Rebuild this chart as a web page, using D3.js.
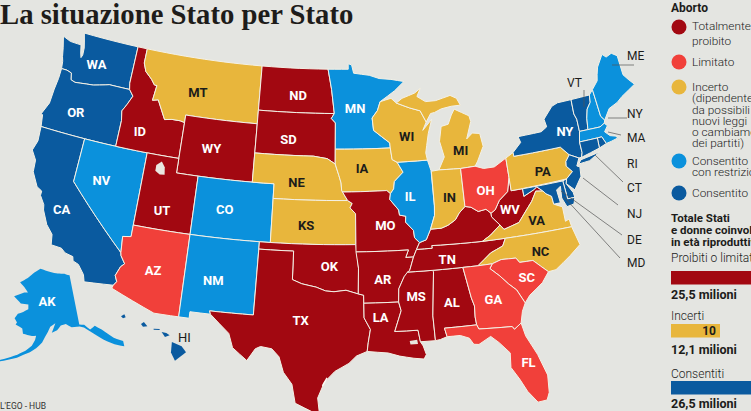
<!DOCTYPE html>
<html>
<head>
<meta charset="utf-8">
<style>
  body { margin: 0; background: #e4e5e1; overflow: hidden; }
  svg { display: block; }
  text { font-family: Roboto, sans-serif; }
  .narrow { font-family: "Liberation Sans Narrow", Roboto, sans-serif; }
</style>
</head>
<body>
<svg width="751" height="411"></svg>
<script src="https://d3js.org/d3.v7.min.js"></script>
<script>

// status of each state
var banned = ["ID","ND","SD","WY","UT","TX","OK","MO","AR","LA","MS","AL","TN","KY","WV"];
var limited = ["AZ","OH","GA","SC","FL"];
var uncertain = ["MT","NE","KS","IA","WI","MI","IN","PA","VA","NC"];
var restricted = ["NV","CO","NM","MN","IL","AK","ME","NH","MA"];
var allowed = ["WA","OR","CA","NY","VT","CT","RI","NJ","DE","MD","HI"];

var statusColors = ["#a20811","#f1403a","#e8b63c","#0b91dc","#0a5a9f"];

// outlines, [lon,lat] rings
var outlines = {
  WA: [[[-124.73,48.38],[-123.9,48.17],[-123.1,48.15],[-122.75,48.15],[-122.55,47.6],[-122.4,47.3],[-122.3,47.5],[-122.35,48.0],[-122.5,48.4],[-122.76,49],[-117.03,49],[-117.04,46.42],[-116.92,46],[-118.98,46],[-119.3,45.93],[-120.5,45.7],[-121.2,45.65],[-122.3,45.55],[-122.75,45.65],[-122.9,46.1],[-123.4,46.2],[-123.95,46.2],[-124.05,46.7],[-124.2,47],[-124.4,47.6]]],
  OR: [[[-123.95,46.2],[-123.4,46.2],[-122.9,46.1],[-122.75,45.65],[-122.3,45.55],[-121.2,45.65],[-120.5,45.7],[-119.3,45.93],[-118.98,46],[-116.92,46],[-116.46,45.6],[-116.85,44.95],[-117.2,44.45],[-117.03,43.8],[-117.03,42],[-124.21,42],[-124.4,42.8],[-124.55,42.84],[-124.1,43.7],[-124.05,44.7],[-123.95,45.5]]],
  CA: [[[-124.21,42],[-120,42],[-120,39],[-114.63,35],[-114.57,34.8],[-114.14,34.3],[-114.43,34.05],[-114.72,33.4],[-114.5,33],[-114.72,32.72],[-117.12,32.53],[-117.3,33],[-117.9,33.6],[-118.4,33.75],[-118.5,34.03],[-119.2,34.15],[-119.6,34.4],[-120.5,34.45],[-120.65,35.15],[-121.3,35.7],[-121.9,36.6],[-122,36.95],[-122.5,37.5],[-122.5,37.8],[-123,38],[-123.7,38.9],[-123.8,39.7],[-124.35,40.3],[-124.1,41]]],
  NV: [[[-120,42],[-114.04,42],[-114.04,36.2],[-114.75,36.1],[-114.63,35],[-120,39]]],
  ID: [[[-117.03,49],[-116.05,49],[-116.05,48],[-115.72,47.45],[-115,47],[-114.6,46.65],[-114.35,46.65],[-114.5,45.6],[-113.95,45.7],[-113.45,45.05],[-113,44.45],[-112.3,44.55],[-111.5,44.55],[-111.05,44.48],[-111.05,42],[-117.03,42],[-117.03,43.8],[-117.2,44.45],[-116.85,44.95],[-116.46,45.6],[-116.92,46],[-117.04,46.42]]],
  MT: [[[-116.05,49],[-104.05,49],[-104.05,45],[-111.05,45],[-111.05,44.48],[-111.5,44.55],[-112.3,44.55],[-113,44.45],[-113.45,45.05],[-113.95,45.7],[-114.5,45.6],[-114.35,46.65],[-114.6,46.65],[-115,47],[-115.72,47.45],[-116.05,48]]],
  WY: [[[-111.05,45],[-104.05,45],[-104.05,41],[-111.05,41]]],
  UT: [[[-114.04,42],[-111.05,42],[-111.05,41],[-109.05,41],[-109.05,37],[-114.04,37]]],
  CO: [[[-109.05,41],[-102.05,41],[-102.05,37],[-109.05,37]]],
  AZ: [[[-114.04,37],[-109.05,37],[-109.05,31.33],[-111.07,31.33],[-114.8,32.5],[-114.72,32.72],[-114.5,33],[-114.72,33.4],[-114.43,34.05],[-114.14,34.3],[-114.57,34.8],[-114.63,35],[-114.75,36.1],[-114.04,36.2]]],
  NM: [[[-109.05,37],[-103,37],[-103.05,32],[-106.62,32],[-106.53,31.78],[-108.2,31.78],[-108.2,31.33],[-109.05,31.33]]],
  ND: [[[-104.05,49],[-97.23,49],[-96.85,47.6],[-96.56,45.94],[-104.05,45.94]]],
  SD: [[[-104.05,45.94],[-96.56,45.94],[-96.85,45.6],[-96.45,45.3],[-96.45,42.49],[-97.2,42.85],[-98.5,43],[-104.05,43]]],
  NE: [[[-104.05,43],[-98.5,43],[-97.2,42.85],[-96.45,42.49],[-96.1,41.7],[-95.9,41.2],[-95.85,40.7],[-95.31,40],[-102.05,40],[-102.05,41],[-104.05,41]]],
  KS: [[[-102.05,40],[-95.31,40],[-94.9,39.8],[-95.1,39.5],[-94.61,39.1],[-94.62,37],[-102.05,37]]],
  OK: [[[-103,37],[-94.62,37],[-94.43,35.4],[-94.48,33.64],[-95.5,33.9],[-96.5,33.8],[-97.2,33.85],[-98,34.1],[-99.2,34.3],[-100,34.56],[-100,36.5],[-103,36.5]]],
  TX: [[[-103,36.5],[-100,36.5],[-100,34.56],[-99.2,34.3],[-98,34.1],[-97.2,33.85],[-96.5,33.8],[-95.5,33.9],[-94.48,33.64],[-94.04,33.55],[-94.04,32],[-93.55,31.2],[-93.75,30.3],[-93.85,29.7],[-94.7,29.4],[-95.3,28.9],[-96.4,28.35],[-97.2,27.6],[-97.7,26.5],[-97.55,25.45],[-98,25.5],[-99.4,26.1],[-99.7,27.4],[-100.4,28.2],[-100.8,29.25],[-101.4,29.77],[-102.3,29.88],[-102.7,29.7],[-103.3,28.85],[-104.5,29.65],[-104.9,30.6],[-106.53,31.78],[-106.62,32],[-103.05,32]]],
  MN: [[[-97.23,49],[-95.15,49],[-95.15,49.38],[-94.8,49.3],[-94.6,48.72],[-93,48.55],[-92,48.3],[-90.8,48.2],[-89.5,48],[-90.5,47.4],[-92,46.7],[-92.3,46.1],[-92.85,45.6],[-92.75,44.75],[-91.25,43.85],[-91.22,43.5],[-96.45,43.5],[-96.45,45.3],[-96.85,45.6],[-96.56,45.94],[-96.85,47.6]]],
  IA: [[[-96.45,43.5],[-91.22,43.5],[-91.1,42.7],[-90.65,42.5],[-90.15,41.8],[-91,41.2],[-91.1,40.7],[-91.42,40.38],[-91.73,40.61],[-95.77,40.58],[-95.85,40.7],[-95.9,41.2],[-96.1,41.7],[-96.45,42.49]]],
  MO: [[[-95.77,40.58],[-91.73,40.61],[-91.42,40.38],[-91.5,40],[-90.75,39.25],[-90.7,38.9],[-90.15,38.8],[-90.2,38.4],[-89.55,37.8],[-89.5,37.3],[-89.1,36.95],[-89.4,36.5],[-89.7,36],[-90.37,36],[-90.1,36.5],[-94.62,36.5],[-94.62,37],[-94.61,39.1],[-95.1,39.5],[-94.9,39.8],[-95.31,40]]],
  AR: [[[-94.62,36.5],[-90.1,36.5],[-90.37,36],[-89.7,36],[-90.1,35.1],[-90.6,34.7],[-91.1,33.9],[-91.17,33],[-94.04,33],[-94.04,33.55],[-94.48,33.64],[-94.43,35.4]]],
  LA: [[[-94.04,33],[-91.17,33],[-91,32.4],[-91.6,31],[-89.73,31],[-89.6,30.2],[-89.4,29.9],[-89.2,29.3],[-89.4,29],[-90.2,29.1],[-91.3,29.3],[-92.2,29.55],[-93.85,29.7],[-93.75,30.3],[-93.55,31.2],[-94.04,32]]],
  MS: [[[-91.17,33],[-91.1,33.9],[-90.6,34.7],[-90.3,35],[-88.2,35],[-88.1,34.9],[-88.45,31.9],[-88.4,30.2],[-89.6,30.2],[-89.73,31],[-91.6,31],[-91,32.4]]],
  AL: [[[-88.2,35],[-85.6,35],[-85.18,32.87],[-85,32.3],[-85.05,31.55],[-85,31],[-87.6,31],[-87.45,30.4],[-88,30.25],[-88.4,30.2],[-88.45,31.9],[-88.1,34.9]]],
  TN: [[[-89.4,36.5],[-88.05,36.5],[-88.07,36.68],[-86.5,36.65],[-83.68,36.6],[-81.68,36.59],[-82,36.1],[-83.1,35.75],[-84.32,34.99],[-85.6,35],[-88.2,35],[-90.3,35],[-90.1,35.1],[-89.7,36]]],
  KY: [[[-89.4,36.5],[-88.05,36.5],[-88.07,36.68],[-86.5,36.65],[-83.68,36.6],[-82.9,36.95],[-81.97,37.54],[-82.6,38.17],[-82.6,38.42],[-83,38.73],[-83.7,38.65],[-84.3,39],[-84.82,39.1],[-85.4,38.7],[-85.8,38.27],[-86.5,37.95],[-87.1,37.8],[-88.05,37.8],[-88.5,37.1],[-89.1,36.95]]],
  WV: [[[-82.6,38.42],[-82.6,38.17],[-81.97,37.54],[-81.68,37.2],[-80.3,37.5],[-79.3,38.4],[-78.87,38.77],[-78.35,39.4],[-77.72,39.32],[-78.2,39.68],[-78.5,39.52],[-79.48,39.2],[-79.48,39.72],[-80.52,39.72],[-80.52,40.64],[-80.85,39.7],[-81.7,39.2],[-82.2,38.6]]],
  VA: [[[-83.68,36.6],[-81.68,36.59],[-75.87,36.55],[-75.95,37.1],[-76.3,37],[-76.3,38],[-77,38.3],[-77.05,38.85],[-77.5,39.1],[-77.72,39.32],[-78.35,39.4],[-78.87,38.77],[-79.3,38.4],[-80.3,37.5],[-81.68,37.2],[-81.97,37.54],[-82.9,36.95]]],
  NC: [[[-81.68,36.59],[-75.87,36.55],[-75.5,35.25],[-76.5,34.65],[-77.9,33.9],[-78.55,33.86],[-79.67,34.8],[-80.8,34.82],[-81.05,35.15],[-82.3,35.2],[-83.1,35],[-84.32,34.99],[-83.1,35.75],[-82,36.1]]],
  SC: [[[-83.1,35],[-82.3,35.2],[-81.05,35.15],[-80.8,34.82],[-79.67,34.8],[-78.55,33.86],[-79.2,33.2],[-80.4,32.5],[-80.87,32.03],[-81.4,33],[-82,33.5],[-82.6,34.1],[-83.35,34.7]]],
  GA: [[[-85.6,35],[-84.32,34.99],[-83.1,35],[-83.35,34.7],[-82.6,34.1],[-82,33.5],[-81.4,33],[-80.87,32.03],[-81.2,31.5],[-81.45,30.72],[-82.05,30.36],[-82.2,30.57],[-84.86,30.7],[-85,31],[-85.05,31.55],[-85,32.3],[-85.18,32.87]]],
  FL: [[[-87.6,31],[-85,31],[-84.86,30.7],[-82.2,30.57],[-82.05,30.36],[-81.45,30.72],[-81.25,29.8],[-80.55,28.4],[-80.05,26.9],[-80.15,25.7],[-80.4,25.2],[-81.1,25.15],[-81.75,26],[-82.2,26.9],[-82.75,27.8],[-82.65,28.8],[-83.4,29.6],[-84,30.1],[-85,29.65],[-85.4,29.7],[-85.7,30.15],[-86.4,30.4],[-87.45,30.4]]],
  IL: [[[-91.42,40.38],[-91.1,40.7],[-91,41.2],[-90.15,41.8],[-90.65,42.5],[-87.8,42.5],[-87.55,41.75],[-87.53,39.35],[-87.6,38.7],[-88.05,37.8],[-88.5,37.1],[-89.1,36.95],[-89.5,37.3],[-89.55,37.8],[-90.2,38.4],[-90.15,38.8],[-90.7,38.9],[-90.75,39.25],[-91.5,40]]],
  WI: [[[-92,46.7],[-90.9,46.9],[-90.4,46.55],[-89.1,46.15],[-88.1,45.9],[-87.6,45.1],[-88,44.55],[-87.05,45.25],[-87.5,44.3],[-87.75,43.5],[-87.9,43],[-87.8,42.5],[-90.65,42.5],[-91.1,42.7],[-91.22,43.5],[-91.25,43.85],[-92.75,44.75],[-92.85,45.6],[-92.3,46.1]]],
  MI: [[[-90.4,46.55],[-89.8,46.85],[-88.5,47.15],[-87.9,47.45],[-88.3,46.9],[-87.5,46.5],[-86.5,46.5],[-85,46.75],[-84.4,46.5],[-84.1,46],[-85,46],[-86,45.9],[-86.7,45.7],[-87.1,45.65],[-87.6,45.1],[-88.1,45.9],[-89.1,46.15]],
       [[-86.82,41.76],[-84.81,41.7],[-83.45,41.73],[-83.15,42.05],[-82.45,43],[-82.6,43.9],[-83.3,44],[-83.9,43.65],[-83.3,44.8],[-83.4,45.2],[-84.75,45.78],[-85.1,45.4],[-85.5,44.8],[-86.2,44.7],[-86.5,43.7],[-86.2,42.6]]],
  IN: [[[-87.53,41.72],[-86.82,41.76],[-84.81,41.7],[-84.82,39.1],[-85.4,38.7],[-85.8,38.27],[-86.5,37.95],[-87.1,37.8],[-88.05,37.8],[-87.6,38.7],[-87.53,39.35]]],
  OH: [[[-84.81,41.7],[-83.45,41.73],[-82.7,41.5],[-81.7,41.5],[-80.52,41.97],[-80.52,40.64],[-80.85,39.7],[-81.7,39.2],[-82.2,38.6],[-82.6,38.42],[-83,38.73],[-83.7,38.65],[-84.3,39],[-84.82,39.1]]],
  PA: [[[-80.52,41.97],[-79.76,42.27],[-79.76,42],[-75.35,42],[-74.7,41.36],[-75.13,40.97],[-75.2,40.65],[-74.75,40.2],[-75.42,39.8],[-80.52,39.72],[-80.52,40.64]]],
  NY: [[[-79.76,42.27],[-78.9,42.85],[-79.05,43.27],[-76.8,43.3],[-76.2,43.55],[-76.3,44.1],[-75.3,44.85],[-74.7,45],[-73.34,45],[-73.4,44],[-73.25,43.6],[-73.27,42.75],[-73.5,42.05],[-73.5,41.3],[-73.65,41],[-73.9,41],[-74.7,41.36],[-75.35,42],[-79.76,42]],
       [[-74.05,40.6],[-73.75,40.85],[-72.6,40.98],[-71.9,41.07],[-73,40.65]]],
  VT: [[[-73.34,45],[-71.5,45],[-71.6,44.5],[-72.05,44.1],[-72.3,43.5],[-72.46,42.73],[-73.27,42.75],[-73.25,43.6],[-73.4,44]]],
  NH: [[[-71.5,45],[-71.08,45.3],[-70.98,43.4],[-70.7,43.07],[-70.82,42.87],[-71.3,42.7],[-72.46,42.73],[-72.3,43.5],[-72.05,44.1],[-71.6,44.5]]],
  ME: [[[-71.08,45.3],[-70.4,45.8],[-70.25,46.2],[-70,46.7],[-69.23,47.46],[-68.9,47.2],[-68.3,47.35],[-67.8,47.07],[-67.8,45.7],[-67.45,45.3],[-67,44.85],[-68.5,44.3],[-69.1,44],[-70,43.75],[-70.7,43.07],[-70.98,43.4]]],
  MA: [[[-73.5,42.05],[-73.27,42.75],[-72.46,42.73],[-71.3,42.7],[-70.82,42.87],[-70.6,42.65],[-71,42.3],[-70.6,41.95],[-70.05,41.8],[-70,41.65],[-70.65,41.55],[-71.13,41.5],[-71.38,42.02],[-71.8,42.02]]],
  RI: [[[-71.8,42.02],[-71.38,42.02],[-71.13,41.5],[-71.85,41.32]]],
  CT: [[[-73.5,42.05],[-71.8,42.02],[-71.85,41.32],[-73.65,41],[-73.5,41.3]]],
  NJ: [[[-75.13,40.97],[-74.7,41.36],[-73.9,41],[-74.25,40.5],[-74,40.4],[-74.1,39.75],[-74.9,38.95],[-75.55,39.5],[-75.42,39.8],[-74.75,40.2],[-75.2,40.65]]],
  DE: [[[-75.79,39.72],[-75.42,39.8],[-75.55,39.5],[-75.1,38.8],[-75.05,38.45],[-75.7,38.46]]],
  MD: [[[-79.48,39.72],[-75.79,39.72],[-75.7,38.46],[-75.05,38.45],[-75.25,38.03],[-75.9,37.95],[-76.2,38.6],[-76.1,39.4],[-76.5,39.2],[-76.4,38.3],[-77,38.3],[-77.05,38.85],[-77.5,39.1],[-77.72,39.32],[-78.2,39.68],[-78.5,39.52],[-79.48,39.2]]]
};

var alaska = [[-141,69.65],[-143.5,70.1],[-148,70.4],[-152,70.85],[-156.6,71.35],[-160,70.5],[-163,69.4],[-166.5,68.35],[-164,67.6],[-162,66.7],[-163.7,66.6],[-168,65.6],[-164.5,64.5],[-161.2,64.5],[-161,63.6],[-163,63],[-165,62.5],[-166,61.6],[-164.8,60.9],[-165.2,60.5],[-162.5,59.95],[-162,59],[-158.7,58.7],[-157.2,58.8],[-157.5,58],[-158.5,56.9],[-160.5,55.9],[-163,55],[-172,52.3],[-163,54.4],[-161,55.1],[-159,55.7],[-157,56.5],[-155,57.6],[-154,58.6],[-153,59.5],[-152,60.5],[-150,61.1],[-151.5,59.4],[-149.5,59.8],[-148,60.6],[-146,60.8],[-144,60.05],[-141,59.95],[-139.5,59.6],[-137,58.3],[-134,56.5],[-131,55],[-128.3,54],[-128,55],[-130.5,56.2],[-133.5,58.4],[-135.5,59.4],[-137.5,58.95],[-139.2,60.1],[-141,60.3]];

var hawaii = [
  [[-159.7,22.05],[-159.45,22.18],[-159.35,21.98],[-159.55,21.9]],
  [[-158.2,21.5],[-157.98,21.65],[-157.72,21.35],[-158.05,21.32]],
  [[-157.25,21.18],[-156.8,21.15],[-156.8,21.08],[-157.25,21.1]],
  [[-156.65,20.95],[-156.3,20.88],[-156.05,20.72],[-156.4,20.6]],
  [[-155.88,20.25],[-155.15,19.95],[-154.82,19.52],[-155.65,18.92],[-155.95,19.5]]
];

var lakes = [
  [[-113,41.3],[-112.55,41.6],[-112.2,41.25],[-112.1,40.75],[-112.55,40.7],[-113,40.9]],
  [[-90.45,30.3],[-89.85,30.35],[-89.8,30.05],[-90.4,30.05]]
];

var padreIsland = [[-97.0,27.9],[-97.35,27.35]];

var labels = {
  WA: [-120.7,47.1], OR: [-121.45,43.6], CA: [-120.4,36.95], NV: [-117.6,39.5], ID: [-115.1,43.3],
  MT: [-110.2,46.65], WY: [-108.15,43], UT: [-111.8,38.35], CO: [-106.3,39], ND: [-100.2,47.1],
  SD: [-100.95,44.1], NE: [-100,41.2], KS: [-99,38.3], OK: [-96.9,35.5], TX: [-99.2,31.8],
  NM: [-106.6,34.1], AZ: [-111.7,34.2], MN: [-94.5,46.3], IA: [-93.95,42.15], MO: [-92,38.25],
  AR: [-92.4,34.6], LA: [-92.7,32], MS: [-89.7,33.3], AL: [-86.8,32.7], TN: [-86.85,35.65],
  GA: [-83.4,32.6], SC: [-80.4,33.75], FL: [-81.35,27.95], NC: [-78.9,35.3], VA: [-78.75,37.4],
  WV: [-80.9,38.5], OH: [-82.8,40], IN: [-86.1,39.85], IL: [-89.65,40.1], WI: [-89.6,44.2],
  MI: [-84.6,42.95], PA: [-77.4,40.6], NY: [-74.6,43]
};

var darkLabels = uncertain;

// labels outside the map with their leader lines
var outsideNames = ["ME","VT","NY","MA","RI","CT","NJ","DE","MD"];
var outsideText = [[627,59.5],[567,86.5],[627,117.5],[627,141.5],[627,167.5],[627,191.5],[627,217.5],[627,243.5],[627,266.5]];
var leaders = [[612,65,634,65],[584,90,584,107],[608,118,627,118],[608,132,621,135],[595,155,623,182],[583,178,618,205],[561,191,622,235],[564,197,620,258]];

var legendLines = [["Totalmente","proibito"],["Limitato"],["Incerto","(dipendente","da possibili","nuovi leggi","o cambiamenti","dei partiti)"],["Consentito","con restrizioni"],["Consentito"]];
var legendBaselines = [[30,45],[66],[91,102,114,125,136,147],[165,176],[197]];
var legendDots = [27,62,87,161,193];

var totalsTitle = ["Totale Stati","e donne coinvolte","in età riproduttiva"];
var totalsNames = ["Proibiti o limitati","Incerti","Consentiti"];
var totalsStates = [20,10,20];
var totalsWomen = ["25,5 milioni","12,1 milioni","26,5 milioni"];
var totalsColors = ["#a20811","#e8b63c","#0a5a9f"];

var svg = d3.select("svg");
var ink = "#1c1c1a";

var colorOf = {};
[banned, limited, uncertain, restricted, allowed].forEach(function(list, i) {
  list.forEach(function(s) { colorOf[s] = statusColors[i]; });
});

var projection = d3.geoConicEqualArea()
    .parallels([29.5,45.5])
    .rotate([96,0])
    .center([0,38])
    .scale(835)
    .translate([340,230]);

// long straight edges follow the parallels, so split them before projecting
function densify(ring) {
  var out = [];
  ring.forEach(function(p, i) {
    var q = ring[(i + 1) % ring.length],
        n = Math.max(Math.ceil(Math.abs(q[0] - p[0])), 1);
    for (var k = 0; k < n; k++) {
      out.push([p[0] + (q[0] - p[0]) * k / n, p[1] + (q[1] - p[1]) * k / n]);
    }
  });
  return out;
}

var line = d3.line();
function ringPath(ring, proj) {
  return line(densify(ring).map(proj)) + "Z";
}

var map = svg.append("g");

map.selectAll("path.state")
    .data(Object.keys(outlines))
  .enter().append("path")
    .attr("class", "state")
    .attr("d", function(d) { return outlines[d].map(function(r) { return ringPath(r, projection); }).join(""); })
    .attr("fill", function(d) { return colorOf[d]; })
    .attr("stroke", "#f4f1e6")
    .attr("stroke-width", 1)
    .attr("stroke-linejoin", "round");

map.selectAll("path.lake")
    .data(lakes)
  .enter().append("path")
    .attr("class", "lake")
    .attr("d", function(d) { return ringPath(d, projection); })
    .attr("fill", "#e9e7e0");

map.append("path")
    .attr("d", line(padreIsland.map(projection)))
    .attr("stroke", "#fbfaf5")
    .attr("stroke-width", 1.5);

// Alaska and Hawaii insets
var akProjection = d3.geoConicEqualArea()
    .parallels([55,65])
    .rotate([154,0])
    .center([0,64])
    .scale(308)
    .translate([45,308]);

map.append("path")
    .attr("d", ringPath(alaska, akProjection))
    .attr("fill", colorOf.AK);

var hiProjection = d3.geoMercator()
    .fitExtent([[121,314],[186,361]], {type: "MultiPoint", coordinates: d3.merge(hawaii)});

map.selectAll("path.hi")
    .data(hawaii)
  .enter().append("path")
    .attr("class", "hi")
    .attr("d", function(d) { return ringPath(d, hiProjection); })
    .attr("fill", colorOf.HI);

// state codes
svg.selectAll("text.code")
    .data(Object.keys(labels))
  .enter().append("text")
    .attr("class", "code narrow")
    .attr("x", function(d) { return projection(labels[d])[0]; })
    .attr("y", function(d) { return projection(labels[d])[1] + 4.5; })
    .attr("text-anchor", "middle")
    .attr("font-size", 13)
    .attr("font-weight", 700)
    .attr("fill", function(d) { return darkLabels.indexOf(d) >= 0 ? ink : "#fff"; })
    .text(function(d) { return d; });

svg.append("text").attr("class", "narrow").attr("x", 178).attr("y", 341.5)
    .attr("font-size", 13).attr("fill", ink).text("HI");
svg.append("text").attr("class", "narrow").attr("x", 47).attr("y", 305.5).attr("text-anchor", "middle")
    .attr("font-size", 13).attr("font-weight", 700).attr("fill", "#fff").text("AK");

svg.selectAll("line.leader")
    .data(leaders)
  .enter().append("line")
    .attr("class", "leader")
    .attr("x1", function(d) { return d[0]; })
    .attr("y1", function(d) { return d[1]; })
    .attr("x2", function(d) { return d[2]; })
    .attr("y2", function(d) { return d[3]; })
    .attr("stroke", "#555")
    .attr("stroke-width", 0.7);

svg.selectAll("text.outside")
    .data(outsideNames)
  .enter().append("text")
    .attr("class", "outside")
    .attr("x", function(d, i) { return outsideText[i][0]; })
    .attr("y", function(d, i) { return outsideText[i][1]; })
    .attr("font-size", 12)
    .attr("fill", ink)
    .text(function(d) { return d; });

// title and credit
svg.append("text").attr("x", 0).attr("y", 24)
    .style("font-family", "'Liberation Serif', serif")
    .attr("font-size", 28.7).attr("font-weight", 700).attr("fill", "#1e1c1a")
    .text("La situazione Stato per Stato");

svg.append("text").attr("x", 46).attr("y", 409).attr("text-anchor", "end")
    .attr("font-size", 8.5).attr("fill", "#333").text("L'EGO - HUB");

// legend
svg.append("text").attr("x", 671).attr("y", 12).attr("font-size", 12)
    .attr("font-weight", 700).attr("fill", ink).text("Aborto");

var legend = svg.selectAll("g.item").data(legendLines).enter().append("g").attr("class", "item");

legend.append("circle")
    .attr("cx", 679)
    .attr("cy", function(d, i) { return legendDots[i]; })
    .attr("r", 7.5)
    .attr("fill", function(d, i) { return statusColors[i]; });

legend.each(function(lines, i) {
  d3.select(this).selectAll("text")
      .data(lines)
    .enter().append("text")
      .attr("x", 692)
      .attr("y", function(d, j) { return legendBaselines[i][j]; })
      .attr("font-size", 11.8)
      .attr("font-weight", 300)
      .attr("fill", "#222")
      .text(function(d) { return d; });
});

svg.selectAll("text.ttitle")
    .data(totalsTitle)
  .enter().append("text")
    .attr("class", "ttitle")
    .attr("x", 671)
    .attr("y", function(d, i) { return 222 + i * 12; })
    .attr("font-size", 11.5)
    .attr("font-weight", 700)
    .attr("fill", ink)
    .text(function(d) { return d; });

var barX = d3.scaleLinear().domain([0,10]).range([0,49]);
var totalsName = [262,320,378], totalsBar = [271,324,381], totalsFoot = [299,354,408];

totalsNames.forEach(function(name, i) {
  svg.append("text").attr("x", 671).attr("y", totalsName[i]).attr("font-size", 12)
      .attr("font-weight", 300).attr("fill", "#222").text(name);
  svg.append("rect").attr("x", 671).attr("y", totalsBar[i])
      .attr("width", barX(totalsStates[i])).attr("height", 13.5).attr("fill", totalsColors[i]);
  svg.append("text").attr("x", 671 + barX(totalsStates[i]) - 4).attr("y", totalsBar[i] + 11)
      .attr("text-anchor", "end").attr("font-size", 12).attr("font-weight", 700)
      .attr("fill", ink).text(totalsStates[i]);
  svg.append("text").attr("x", 671).attr("y", totalsFoot[i]).attr("font-size", 12.5)
      .attr("font-weight", 700).attr("fill", ink).text(totalsWomen[i]);
});

</script>
</body>
</html>
